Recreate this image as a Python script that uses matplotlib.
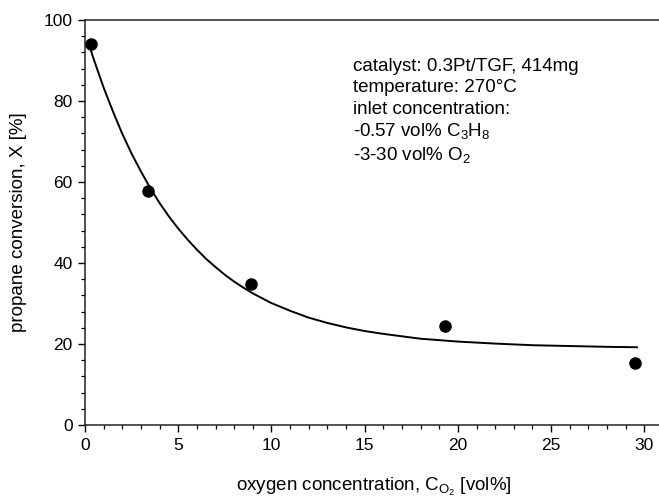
import matplotlib
matplotlib.use("Agg")
import matplotlib.pyplot as plt
from matplotlib.ticker import MultipleLocator

plt.rcParams['font.family'] = ['Liberation Sans', 'DejaVu Sans']
plt.rcParams['mathtext.fontset'] = 'custom'
plt.rcParams['mathtext.rm'] = 'Liberation Sans'
plt.rcParams['mathtext.it'] = 'Liberation Sans:italic'

# measured points
o2_conc = [0.3, 3.4, 8.9, 19.3, 29.5]
conversion = [94.0, 57.9, 34.8, 24.5, 15.4]

# fitted curve
curve_x = [0.3, 0.5, 1, 1.5, 2, 2.5, 3, 3.5, 4, 4.5, 5, 5.5, 6, 6.5, 7, 7.5,
           8, 8.5, 9, 9.5, 10, 11, 12, 13, 14, 15, 16, 18, 20, 22, 24, 26, 28, 29.6]
curve_y = [92.7, 89.9, 83.3, 77.4, 71.9, 67.0, 62.6, 58.5, 54.8, 51.5, 48.5, 45.8,
           43.3, 41.0, 39.0, 37.1, 35.4, 33.9, 32.5, 31.3, 30.1, 28.2, 26.5, 25.2,
           24.1, 23.2, 22.5, 21.3, 20.6, 20.1, 19.7, 19.5, 19.3, 19.2]

x_ticks = [0, 5, 10, 15, 20, 25, 30]
y_ticks = [0, 20, 40, 60, 80, 100]

annotation_lines = [
    "catalyst: 0.3Pt/TGF, 414mg",
    "temperature: 270°C",
    "inlet concentration:",
    r"-0.57 vol% C$\mathregular{_3}$H$\mathregular{_8}$",
    r"-3-30 vol% O$\mathregular{_2}$",
]
annotation_y_px = [66.5, 88, 109.5, 131, 155]

W, H = 659, 498
fig = plt.figure(figsize=(W / 100, H / 100), dpi=100)
ax_left, ax_right, ax_top, ax_bottom = 85, 663, 20, 425
ax = fig.add_axes([ax_left / W, 1 - ax_bottom / H, (ax_right - ax_left) / W,
                   (ax_bottom - ax_top) / H])

ax.plot(curve_x, curve_y, color='black', lw=1.4, zorder=2)
ax.plot(o2_conc, conversion, 'o', color='black', ms=8, zorder=3)

ax.set_xlim(0, 31)
ax.set_ylim(0, 100)
ax.set_xticks(x_ticks)
ax.set_yticks(y_ticks)
ax.xaxis.set_minor_locator(MultipleLocator(1))
ax.yaxis.set_minor_locator(MultipleLocator(4))
ax.tick_params(which='major', direction='out', length=5, width=1.0,
               labelsize=12.5, top=False, right=False, pad=4)
ax.tick_params(which='minor', direction='out', length=3, width=0.9,
               top=False, right=False)
for s in ax.spines.values():
    s.set_linewidth(1.1)
    s.set_color('#222222')

ax.set_xlabel(r"oxygen concentration, C$\mathregular{_{O_2}}$ [vol%]",
              fontsize=13.5, labelpad=17)
ax.set_ylabel("propane conversion, X [%]", fontsize=13.5, labelpad=12)

for txt, ypx in zip(annotation_lines, annotation_y_px):
    fig.text(353 / W, 1 - ypx / H, txt, fontsize=13.5, ha='left', va='center')

fig.savefig("out.png", dpi=100)
